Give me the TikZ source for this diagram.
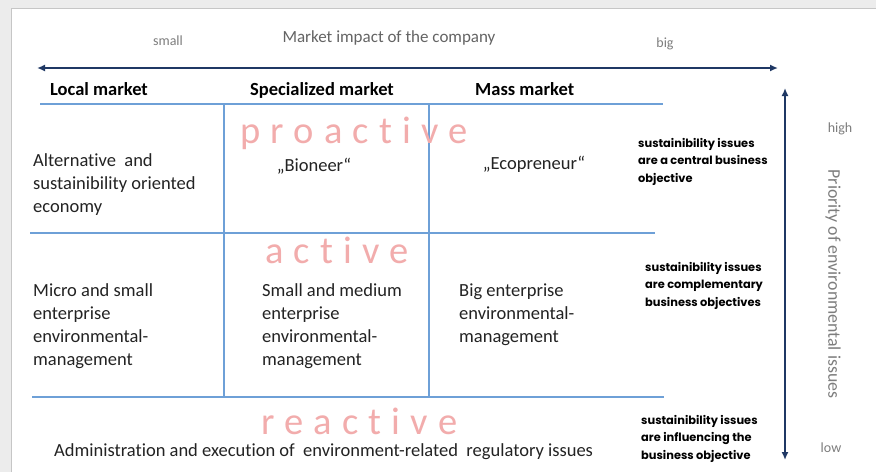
\documentclass[tikz,border=0pt]{standalone}
\usepackage{fontspec}
\setmainfont{Carlito}[Ligatures={TeX,NoCommon}]
\newfontfamily\popfont{Poppins}
\newfontfamily\spacedfont{Carlito}[LetterSpace=26.5,Ligatures={NoCommon}]
\usetikzlibrary{arrows.meta}
\definecolor{bggray}{RGB}{236,236,236}
\definecolor{framegray}{RGB}{198,198,198}
\definecolor{navy}{RGB}{31,56,100}
\definecolor{gridblue}{RGB}{110,160,215}
\definecolor{pinkword}{RGB}{242,172,172}
\definecolor{labelgray}{RGB}{125,125,125}
\definecolor{impactgray}{RGB}{100,100,100}
\definecolor{textblack}{RGB}{35,35,35}
\tikzset{
  navyarrow/.style={draw=navy, line width=2pt, {Latex[length=8pt,width=7pt]}-{Latex[length=8pt,width=7pt]}},
  gridline/.style={draw=gridblue, line width=1.3pt},
  smalllabel/.style={inner sep=0pt, text=labelgray, font={\fontsize{14}{16}\selectfont}},
  impactlabel/.style={inner sep=0pt, text=impactgray, font={\fontsize{17}{19}\selectfont}},
  axislabel/.style={inner sep=0pt, text=labelgray, font={\fontsize{17.8}{19}\selectfont}},
  hdr/.style={inner sep=0pt, anchor=base west, text=black, font={\bfseries\fontsize{18.5}{22}\selectfont}},
  pinktext/.style={inner sep=0pt, anchor=base west, text=pinkword, font={\spacedfont\fontsize{38.5}{40}\selectfont}},
  celltext/.style={inner sep=0pt, anchor=base west, align=left, text=textblack, font={\fontsize{18.5}{23}\selectfont}},
  quotetext/.style={inner sep=0pt, anchor=base, text=textblack, font={\fontsize{18.5}{23}\selectfont}},
  sidetext/.style={inner sep=0pt, anchor=base west, align=left, text=black, font={\popfont\bfseries\fontsize{11.4}{17.5}\selectfont}},
}
\begin{document}
\begin{tikzpicture}[x=1pt,y=-1pt]
\useasboundingbox (0,0) rectangle (876,472);
\fill[bggray] (0,0) rectangle (876,472);
\fill[white] (12,9) rectangle (876,472);
\draw[framegray, line width=1.5pt] (11.5,472) -- (11.5,8.5) -- (876,8.5);

% axes
\coordinate (hL) at (37,68);
\coordinate (hR) at (778,68);
\coordinate (vT) at (785,88);
\coordinate (vB) at (785,460);
\draw[navyarrow] (hL) -- (hR);
\draw[navyarrow] (vT) -- (vB);

% grid
\coordinate (r1L) at (40,104);  \coordinate (r1R) at (663,104);
\coordinate (r2L) at (30,233);  \coordinate (r2R) at (655,233);
\coordinate (r3L) at (32,397);  \coordinate (r3R) at (664,397);
\coordinate (c1T) at (224,104); \coordinate (c1B) at (224,397);
\coordinate (c2T) at (429,104); \coordinate (c2B) at (429,397);
\draw[gridline] (r1L) -- (r1R);
\draw[gridline] (r2L) -- (r2R);
\draw[gridline] (r3L) -- (r3R);
\draw[gridline] (c1T) -- (c1B);
\draw[gridline] (c2T) -- (c2B);

% axis labels
\node[smalllabel, anchor=base] (small) at (168,45) {small};
\node[impactlabel, anchor=base] (impact) at (389,42) {Market impact of the company};
\node[smalllabel, anchor=base] (big) at (665,47) {big};
\node[smalllabel, anchor=base] (high) at (840,132) {high};
\node[smalllabel, anchor=base] (low) at (831,452) {low};
\node[axislabel, rotate=-90, anchor=center] (prio) at (833,284) {Priority of environmental issues};

% headers
\node[hdr] (local) at (50,95) {Local market};
\node[hdr] (spec) at (250,95) {Specialized market};
\node[hdr] (mass) at (475,95) {Mass market};

% pink words
\node[pinktext] (proactive) at (240,143) {proactive};
\node[pinktext] (active) at (265,263) {active};
\node[pinktext] (reactive) at (261,434) {reactive};

% cells (anchor = baseline of last line)
\node[celltext] (alt) at (33,212) {Alternative\ \ and\\sustainibility oriented\\economy};
\node[quotetext] (bioneer) at (314,171) {„Bioneer“};
\node[quotetext] (eco) at (534,169) {„Ecopreneur“};
\node[celltext] (micro) at (33,365) {Micro and small\\enterprise\\environmental-\\management};
\node[celltext] (sme) at (262,365) {Small and medium\\enterprise\\environmental-\\management};
\node[celltext] (bigent) at (459,342) {Big enterprise\\environmental-\\management};
\node[celltext] (admin) at (54,456) {Administration and execution of\ \ environment-related\ \ regulatory issues};

% side texts (anchor = baseline of last line)
\node[sidetext] (s1) at (638,182) {sustainibility issues\\are a central business\\objective};
\node[sidetext] (s2) at (645,306) {sustainibility issues\\are complementary\\business objectives};
\node[sidetext] (s3) at (641,459) {sustainibility issues\\are influencing the\\business objective};
\end{tikzpicture}
\end{document}
